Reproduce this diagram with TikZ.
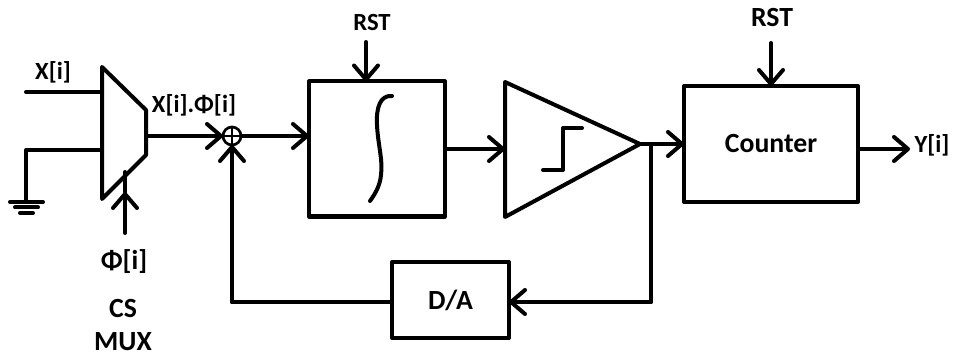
\documentclass[tikz,border=0pt]{standalone}
\usepackage{fontspec}
\setmainfont{Carlito}
\usetikzlibrary{arrows.meta,calc}
\pgfdeclarearrow{
  name=VeeBarb,
  setup code={
    \pgfarrowssettipend{0pt}
    \pgfarrowssetlineend{-2pt}
    \pgfarrowssetvisualbackend{-12pt}
    \pgfarrowssetbackend{-13pt}
    \pgfarrowshullpoint{0pt}{0pt}
    \pgfarrowshullpoint{-12pt}{9pt}
    \pgfarrowshullpoint{-12pt}{-9pt}
  },
  drawing code={
    \pgfsetdash{}{0pt}
    \pgfsetroundcap
    \pgfsetroundjoin
    \pgfsetlinewidth{3pt}
    \pgfpathmoveto{\pgfqpoint{-12pt}{9pt}}
    \pgfpathlineto{\pgfqpoint{-1.5pt}{0pt}}
    \pgfpathlineto{\pgfqpoint{-12pt}{-9pt}}
    \pgfusepathqstroke
  }
}
\tikzset{
  px/.style={x=0.75pt,y=-0.75pt},
  wire/.style={line width=3pt,line cap=round,line join=round},
  arr/.style={wire,-{VeeBarb}},
  box/.style={draw,line width=3pt,rectangle,outer sep=0pt,inner sep=0pt,line join=round},
  lab/.style={font=\bfseries\fontsize{18.5pt}{20pt}\selectfont,inner sep=0pt},
  biglab/.style={font=\bfseries\fontsize{20.8pt}{22pt}\selectfont,inner sep=0pt},
  philab/.style={font=\bfseries\fontsize{20.5pt}{22pt}\selectfont,inner sep=0pt},
  sumnode/.style={draw,circle,line width=2pt,minimum size=13.5pt,inner sep=0pt,outer sep=0pt}
}
\begin{document}
\begin{tikzpicture}[px]
\useasboundingbox (0,0) rectangle (953,356);
% blocks
\node[box,minimum width=136*0.75pt,minimum height=135*0.75pt] (int) at (377,149) {};
\node[box,minimum width=174*0.75pt,minimum height=116*0.75pt] (cnt) at (771,144) {\fontsize{20.8pt}{22pt}\selectfont\bfseries Counter};
\node[box,minimum width=117*0.75pt,minimum height=76*0.75pt] (da) at (450.5,300) {\fontsize{20.8pt}{22pt}\selectfont\bfseries D/A};
\node[sumnode] (sum) at (232,136) {};
% named points
\coordinate (muxa) at (102,67);
\coordinate (muxb) at (146,110);
\coordinate (muxc) at (146,155);
\coordinate (muxd) at (102,199);
\coordinate (muxout) at (148,136);
\coordinate (inx) at (26,92);
\coordinate (muxx) at (102,92);
\coordinate (gnd) at (26,202);
\coordinate (muxg) at (102,150);
\coordinate (phis) at (125,233);
\coordinate (phit) at (125,192);
\coordinate (phie) at (125,172);
\coordinate (cmpa) at (505,82);
\coordinate (cmpo) at (640,144);
\coordinate (cmpb) at (505,217);
\coordinate (cmpin) at (505,149);
\coordinate (tap) at (651,144);
\coordinate (fb) at (651,302);
\coordinate (fbl) at (232,302);
\coordinate (rsta) at (366,42);
\coordinate (rstb) at (771,43);
\coordinate (yout) at (910,149);
% mux
\draw[wire] (muxa) -- (muxb) -- (muxc) -- (muxd) -- cycle;
\draw[wire] (inx) -- (muxx);
\draw[wire] (muxg) -| (gnd);
\draw[wire] ($(gnd)+(-16,0)$) -- ($(gnd)+(17,0)$);
\draw[wire] ($(gnd)+(-11,5.5)$) -- ($(gnd)+(12,5.5)$);
\draw[wire] ($(gnd)+(-6,11)$) -- ($(gnd)+(7,11)$);
\draw[arr] (phis) -- (phit);
\draw[wire] (phit) -- (phie);
% summing point
\draw[line width=2pt] (sum.west) -- (sum.east);
\draw[line width=2pt] (sum.north) -- (sum.south);
\draw[arr] (muxout) -- (sum.west);
\draw[arr] (sum.east) -- (int.west |- sum);
\draw[arr] (fbl) -- (sum.south);
% integrator
\draw[wire] (392,96) .. controls (380,95) and (376,108) .. (377,125) .. controls (378,145) and (383,160) .. (381,175) .. controls (380,186) and (375,194) .. (370,201);
\draw[arr] (rsta) -- (rsta |- int.north);
\node[lab] (r1) at (372,22) {RST};
% comparator
\draw[wire] (cmpa) -- (cmpo) -- (cmpb) -- cycle;
\draw[wire] (543,170) -- (563,170) -- (563,128) -- (582,128);
\draw[arr] (int.east) -- (cmpin);
\draw[arr] (cmpo) -- (cnt.west);
% feedback
\draw[wire] (tap) -- (fb);
\draw[arr] (fb) -- (da.east |- fb);
\draw[wire] (da.west |- fb) -- (fbl);
% counter
\draw[arr] (rstb) -- (rstb |- cnt.north);
\draw[arr] (cnt.east |- yout) -- (yout);
\node[biglab] (r2) at (772,18) {RST};
% labels
\node[lab] (lx) at (53,72) {X[i]};
\node[lab] (lxp) at (194,105) {X[i].Φ[i]};
\node[philab] (lp) at (124,262) {Φ[i]};
\node[biglab] (lcs) at (123,308) {CS};
\node[biglab] (lmux) at (123,342) {MUX};
\node[lab] (ly) at (932,145) {Y[i]};
\end{tikzpicture}
\end{document}
